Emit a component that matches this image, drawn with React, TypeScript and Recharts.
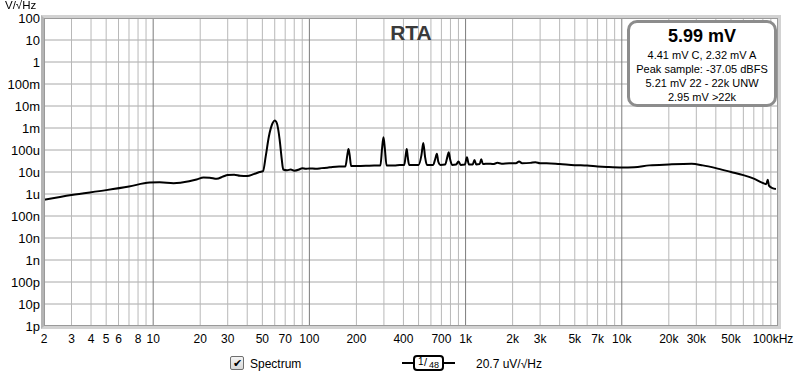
import React from "react";
import { CartesianGrid, Line, LineChart, ReferenceLine, XAxis, YAxis } from "recharts";

// frequency (Hz) and spectrum level (V/√Hz)
const freqs = [
  2, 3, 5, 7, 9.5, 11, 13.5, 17, 19, 21, 23, 25.5, 28, 30, 33, 36, 40, 44, 48, 50.5,
  52.5, 55, 58, 60, 62, 64.5, 66.5, 68, 72, 76, 80, 86, 90, 95, 100, 110, 120, 130, 140, 155,
  170, 175, 178, 181, 185, 200, 230, 260, 285, 292, 298, 304, 312, 350, 380, 405, 414, 420, 426, 435,
  500, 522, 536, 550, 565, 620, 640, 655, 668, 690, 740, 765, 780, 795, 820, 870, 900, 930, 990, 1020,
  1050, 1110, 1140, 1170, 1230, 1260, 1290, 1400, 1500, 1600, 1700, 1900, 2100, 2200, 2300, 2600, 2800, 3000, 3300, 4000,
  5000, 6000, 7000, 8000, 10000, 12000, 15000, 20000, 28000, 33000, 40000, 50000, 60000, 70000, 79000, 84000, 86000, 87500, 92000, 97000,
];
const levels = [
  0.55e-6, 0.9e-6, 1.5e-6, 2.2e-6, 3.3e-6, 3.4e-6, 3.1e-6, 3.8e-6, 4.6e-6, 5.6e-6, 5.5e-6, 4.9e-6, 6.2e-6, 7.3e-6, 7.5e-6, 6.7e-6, 6.5e-6, 8e-6, 10e-6, 11e-6,
  50e-6, 400e-6, 1.6e-3, 2.2e-3, 1.6e-3, 300e-6, 40e-6, 13e-6, 12e-6, 13e-6, 11.5e-6, 13e-6, 15e-6, 14e-6, 14.5e-6, 14e-6, 15e-6, 15.5e-6, 17e-6, 18e-6,
  18e-6, 60e-6, 110e-6, 60e-6, 18.5e-6, 18.5e-6, 19e-6, 20e-6, 20e-6, 120e-6, 380e-6, 120e-6, 20e-6, 20e-6, 21e-6, 21e-6, 60e-6, 110e-6, 50e-6, 21e-6,
  21e-6, 60e-6, 210e-6, 50e-6, 21e-6, 21e-6, 40e-6, 68e-6, 30e-6, 21e-6, 22e-6, 50e-6, 80e-6, 40e-6, 21e-6, 22e-6, 30e-6, 21e-6, 22e-6, 47e-6,
  22e-6, 22e-6, 35e-6, 22e-6, 23e-6, 38e-6, 23e-6, 24e-6, 23e-6, 26e-6, 24e-6, 25e-6, 25e-6, 30e-6, 25e-6, 26e-6, 28e-6, 25e-6, 25e-6, 23e-6,
  20.5e-6, 19.5e-6, 18e-6, 17e-6, 16e-6, 16.5e-6, 20e-6, 22e-6, 23.5e-6, 20e-6, 15e-6, 10e-6, 7.2e-6, 5e-6, 3.3e-6, 2.8e-6, 4.5e-6, 2.4e-6, 1.85e-6, 1.7e-6,
];

const xTicks = [2, 3, 4, 5, 6, 8, 10, 20, 30, 50, 70, 100, 200, 400, 700, 1000, 2000, 3000, 5000, 7000, 10000, 20000, 30000, 50000, 100000];
const xTickLabels = ["2", "3", "4", "5", "6", "8", "10", "20", "30", "50", "70", "100", "200", "400", "700", "1k", "2k", "3k", "5k", "7k", "10k", "20k", "30k", "50k", "100kHz"];
const yTicks = [100, 10, 1, 0.1, 0.01, 1e-3, 1e-4, 1e-5, 1e-6, 1e-7, 1e-8, 1e-9, 1e-10, 1e-11, 1e-12];
const yTickLabels = ["100", "10", "1", "100m", "10m", "1m", "100u", "10u", "1u", "100n", "10n", "1n", "100p", "10p", "1p"];

const decades = [1, 10, 100, 1000, 10000];
const multipliers = [1, 2, 3, 4, 5, 6, 7, 8, 9];

const FONT = "'Liberation Sans', Arial, sans-serif";

const rows = freqs.map((f, i) => ({ f, v: levels[i] }));

const gridLines: { f: number; major: boolean }[] = [];
decades.forEach((d) =>
  multipliers.forEach((m) => {
    const f = d * m;
    if (f > 2 && f < 100000) gridLines.push({ f, major: m === 1 });
  })
);

function XTick(props: any) {
  const { x, y, payload } = props;
  const i = xTicks.indexOf(payload.value);
  const last = i === xTicks.length - 1;
  return (
    <text x={last ? x - 5 : x} y={y} dy="0.71em" textAnchor="middle" fontSize={12} fontFamily={FONT} fill="#000">
      {xTickLabels[i]}
    </text>
  );
}

function YTick(props: any) {
  const { x, y, payload } = props;
  const i = yTicks.findIndex((t) => Math.abs(Math.log10(t) - Math.log10(payload.value)) < 1e-6);
  return (
    <text x={x} y={y} dy="0.355em" textAnchor="end" fontSize={13} fontFamily={FONT} fill="#000">
      {yTickLabels[i]}
    </text>
  );
}

const infoLine = { fontSize: 11, lineHeight: "14px", whiteSpace: "nowrap" as const };

export default function App() {
  return (
    <div style={{ position: "fixed", left: 0, top: 0, width: 800, height: 378, background: "#fff", fontFamily: FONT }}>
      <LineChart width={800} height={378} data={rows} margin={{ top: 18, right: 22, bottom: 32, left: 0 }}>
        <CartesianGrid vertical={false} stroke="#a8a8a8" />
        {gridLines.map((g) => (
          <ReferenceLine key={g.f} x={g.f} stroke={g.major ? "#7c7c7c" : "#b8b8b8"} strokeWidth={1} />
        ))}
        <XAxis
          dataKey="f"
          type="number"
          scale="log"
          domain={[2, 100000]}
          ticks={xTicks}
          interval={0}
          tick={<XTick />}
          tickLine={false}
          axisLine={false}
          tickSize={0}
          tickMargin={8}
          height={20}
          allowDataOverflow
        />
        <YAxis
          type="number"
          scale="log"
          domain={[1e-12, 100]}
          ticks={yTicks}
          interval={0}
          tick={<YTick />}
          tickLine={false}
          axisLine={false}
          tickSize={0}
          tickMargin={4}
          width={44}
          allowDataOverflow
        />
        <Line
          dataKey="v"
          type="monotone"
          stroke="#000"
          strokeWidth={2}
          dot={false}
          isAnimationActive={false}
        />
      </LineChart>

      {/* plot frame */}
      <div
        style={{
          position: "absolute",
          left: 41,
          top: 15,
          width: 734,
          height: 308,
          border: "3px solid #d2d2d2",
          borderLeftColor: "#b4b4b4",
          pointerEvents: "none",
        }}
      >
        <div style={{ position: "absolute", inset: 0, border: "1px solid #9a9a9a" }} />
      </div>

      <div style={{ position: "absolute", left: 5, top: 0, fontSize: 11.5, lineHeight: "10px", color: "#000" }}>V/√Hz</div>

      <div
        style={{
          position: "absolute",
          left: 361,
          top: 21,
          width: 100,
          textAlign: "center",
          fontSize: 21,
          fontWeight: "bold",
          color: "#3a3a3a",
        }}
      >
        RTA
      </div>

      {/* readout box */}
      <div
        style={{
          position: "absolute",
          left: 627,
          top: 20,
          width: 144,
          height: 81,
          border: "3px solid #8c8c8c",
          borderRadius: 10,
          background: "#fff",
          textAlign: "center",
          color: "#000",
        }}
      >
        <div style={{ fontSize: 18, fontWeight: "bold", marginTop: 3, lineHeight: "20px" }}>5.99 mV</div>
        <div style={{ ...infoLine, marginTop: 2 }}>4.41 mV C, 2.32 mV A</div>
        <div style={infoLine}>Peak sample: -37.05 dBFS</div>
        <div style={infoLine}>5.21 mV 22 - 22k UNW</div>
        <div style={infoLine}>2.95 mV &gt;22k</div>
      </div>

      {/* legend */}
      <div
        style={{
          position: "absolute",
          left: 230,
          top: 356,
          width: 12,
          height: 12,
          border: "1px solid #6e6e6e",
          borderRadius: 2,
          background: "linear-gradient(#f4f4f4, #d8d8d8)",
          fontSize: 11,
          lineHeight: "12px",
          textAlign: "center",
          color: "#000",
        }}
      >
        ✔
      </div>
      <div style={{ position: "absolute", left: 250, top: 356, fontSize: 12, lineHeight: "16px" }}>Spectrum</div>

      <div style={{ position: "absolute", left: 402, top: 362, width: 53, height: 2, background: "#000" }} />
      <div
        style={{
          position: "absolute",
          left: 413,
          top: 355,
          width: 27,
          height: 12,
          border: "2px solid #000",
          borderRadius: 4,
          background: "#fff",
          fontSize: 10,
          lineHeight: "11px",
        }}
      >
        <span style={{ position: "absolute", left: 3, top: -1 }}>1</span>
        <span style={{ position: "absolute", left: 9, top: 0, fontSize: 11 }}>/</span>
        <span style={{ position: "absolute", left: 14, top: 3, fontSize: 9 }}>48</span>
      </div>
      <div style={{ position: "absolute", left: 476, top: 356, fontSize: 12, lineHeight: "16px" }}>20.7 uV/√Hz</div>
    </div>
  );
}
